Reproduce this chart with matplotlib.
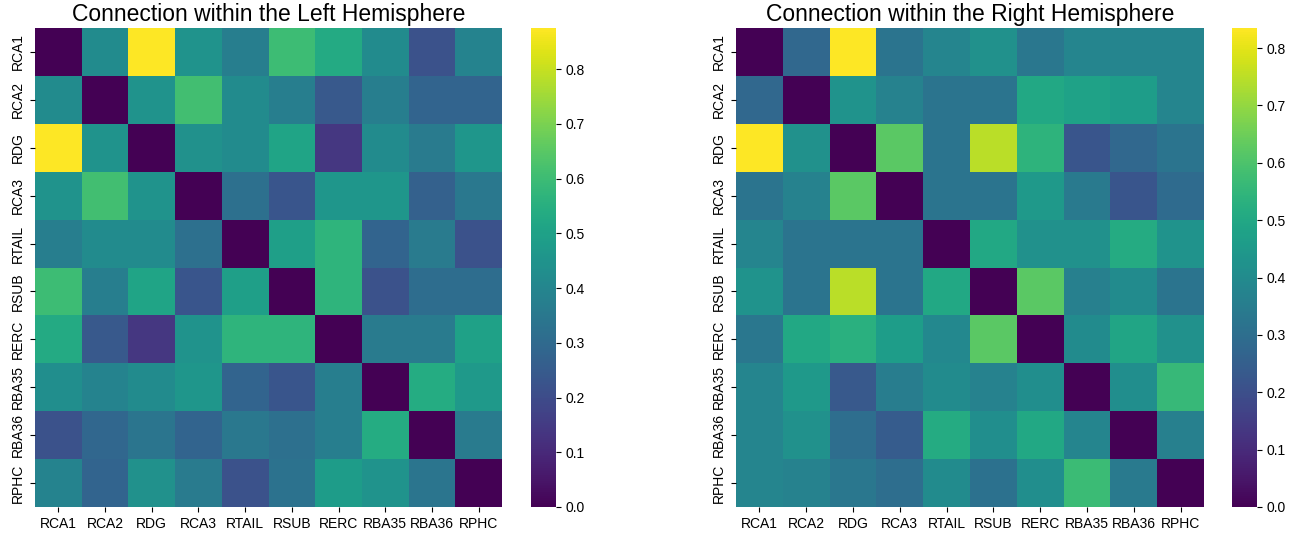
import numpy as np
import matplotlib
matplotlib.use("Agg")
from matplotlib import pyplot as plt
import seaborn as sns

plt.rcParams['font.family'] = ['Liberation Sans', 'DejaVu Sans']

regions = ['RCA1', 'RCA2', 'RDG', 'RCA3', 'RTAIL', 'RSUB', 'RERC', 'RBA35', 'RBA36', 'RPHC']

# hémisphère gauche
left = [
    [0.00, 0.42, 0.875, 0.45, 0.37, 0.60, 0.53, 0.42, 0.22, 0.39],
    [0.42, 0.00, 0.45, 0.61, 0.42, 0.37, 0.24, 0.37, 0.28, 0.28],
    [0.875, 0.45, 0.00, 0.44, 0.42, 0.51, 0.14, 0.42, 0.36, 0.46],
    [0.45, 0.61, 0.45, 0.00, 0.32, 0.23, 0.46, 0.46, 0.27, 0.35],
    [0.37, 0.42, 0.42, 0.32, 0.00, 0.49, 0.57, 0.28, 0.36, 0.22],
    [0.60, 0.37, 0.51, 0.23, 0.49, 0.00, 0.57, 0.22, 0.31, 0.31],
    [0.53, 0.24, 0.14, 0.45, 0.57, 0.57, 0.00, 0.36, 0.36, 0.50],
    [0.43, 0.39, 0.42, 0.46, 0.28, 0.23, 0.37, 0.00, 0.54, 0.47],
    [0.22, 0.29, 0.34, 0.28, 0.35, 0.32, 0.37, 0.54, 0.00, 0.36],
    [0.39, 0.28, 0.44, 0.36, 0.22, 0.33, 0.48, 0.45, 0.34, 0.00],
]

# hémisphère droit
right = [
    [0.00, 0.28, 0.835, 0.32, 0.38, 0.42, 0.33, 0.38, 0.38, 0.38],
    [0.28, 0.00, 0.43, 0.37, 0.32, 0.32, 0.50, 0.48, 0.46, 0.38],
    [0.835, 0.42, 0.00, 0.62, 0.32, 0.75, 0.54, 0.22, 0.28, 0.32],
    [0.32, 0.37, 0.62, 0.00, 0.32, 0.32, 0.45, 0.34, 0.22, 0.29],
    [0.38, 0.32, 0.32, 0.32, 0.00, 0.50, 0.42, 0.42, 0.51, 0.43],
    [0.43, 0.32, 0.75, 0.32, 0.50, 0.00, 0.62, 0.36, 0.40, 0.32],
    [0.33, 0.50, 0.53, 0.46, 0.39, 0.62, 0.00, 0.40, 0.49, 0.42],
    [0.38, 0.45, 0.23, 0.35, 0.40, 0.37, 0.41, 0.00, 0.41, 0.56],
    [0.38, 0.42, 0.30, 0.24, 0.51, 0.41, 0.50, 0.38, 0.00, 0.36],
    [0.38, 0.37, 0.33, 0.30, 0.40, 0.31, 0.41, 0.57, 0.34, 0.00],
]

fig = plt.figure(figsize=(13.05, 5.35), dpi=100)
W, H = 1305, 535

def box(x0, y0, x1, y1):
    return [x0 / W, 1 - y1 / H, (x1 - x0) / W, (y1 - y0) / H]

ax1 = fig.add_axes(box(35, 28, 502, 507))
cax1 = fig.add_axes(box(531, 28, 556, 507))
ax2 = fig.add_axes(box(736, 28, 1204, 507))
cax2 = fig.add_axes(box(1232, 28, 1257, 507))

for ax, cax, data, titre in [(ax1, cax1, left, 'Connection within the Left Hemisphere'),
                             (ax2, cax2, right, 'Connection within the Right Hemisphere')]:
    sns.heatmap(np.array(data), ax=ax, cbar_ax=cax, cmap='viridis',
                xticklabels=regions, yticklabels=regions)
    ax.set_title(titre, fontsize=16.5, pad=5)
    ax.tick_params(labelsize=10)
    plt.setp(ax.get_xticklabels(), rotation=0)
    plt.setp(ax.get_yticklabels(), rotation=90, va='center')
    cax.tick_params(labelsize=10)

fig.savefig('out.png', dpi=100)
